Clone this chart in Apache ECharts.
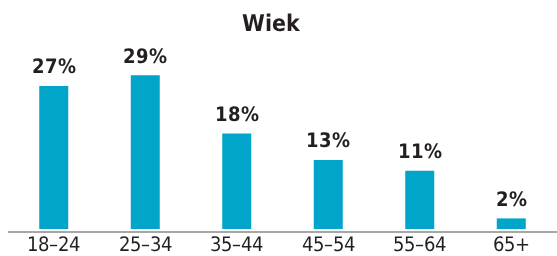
<!DOCTYPE html>
<html>
<head>
<meta charset="utf-8">
<script src="https://cdn.jsdelivr.net/npm/echarts@6/dist/echarts.min.js"></script>
<style>
  html, body { margin: 0; padding: 0; background: #fff; }
  #chart { width: 557px; height: 256px; }
  @font-face {
    font-family: 'NarrowUI';
    font-weight: 700;
    src: local('Liberation Sans Narrow Bold'), local('LiberationSansNarrow-Bold'),
         local('DejaVu Sans Condensed Bold'), local('DejaVuSansCondensed-Bold');
  }
  @font-face {
    font-family: 'NarrowUI';
    font-weight: 400;
    src: local('Liberation Sans Narrow'), local('LiberationSansNarrow-Regular'),
         local('DejaVu Sans Condensed'), local('DejaVuSansCondensed');
  }
</style>
</head>
<body>
<div id="chart"></div>
<script>
// age groups and share of respondents (%)
var categories = ['18\u201324', '25\u201334', '35\u201344', '45\u201354', '55\u201364', '65+'];
var shares = [27, 29, 18, 13, 11, 2];
var titleText = 'Wiek';

var FONT = 'NarrowUI, "DejaVu Sans", sans-serif';
var INK = '#231f20';

function draw() {
  var chart = echarts.init(document.getElementById('chart'), null, { renderer: 'canvas' });

  var option = {
    animation: false,
    title: {
      text: titleText,
      left: 237,   // sits a bit left of the page centre
      top: 9,
      textStyle: { fontFamily: FONT, fontWeight: 'bold', fontSize: 23, color: INK }
    },
    grid: { left: 8, top: 70, width: 554, bottom: 27, containLabel: false },
    xAxis: {
      type: 'category',
      data: categories,
      axisLine: { show: false },
      axisTick: { show: false },
      axisLabel: {
        margin: 7,
        fontFamily: FONT,
        fontSize: 20,
        color: INK
      }
    },
    yAxis: {
      type: 'value',
      min: 0,
      max: 30,
      show: false,
      splitLine: { show: false }
    },
    series: [{
      type: 'bar',
      data: shares,
      barWidth: 29,
      itemStyle: { color: '#00a5c9' },
      label: {
        show: true,
        position: 'top',
        distance: 8,
        formatter: '{c}%',
        fontFamily: FONT,
        fontWeight: 'bold',
        fontSize: 20,
        color: INK
      }
    }],
    graphic: [{
      // baseline rule, runs to the right edge
      type: 'line',
      shape: { x1: 8, y1: 232, x2: 557, y2: 232 },
      style: { stroke: '#8a8a8a', lineWidth: 1.6 },
      silent: true
    }]
  };

  chart.setOption(option);
}

Promise.all([
  document.fonts.load('bold 20px NarrowUI'),
  document.fonts.load('20px NarrowUI')
]).then(draw, draw);
</script>
</body>
</html>
